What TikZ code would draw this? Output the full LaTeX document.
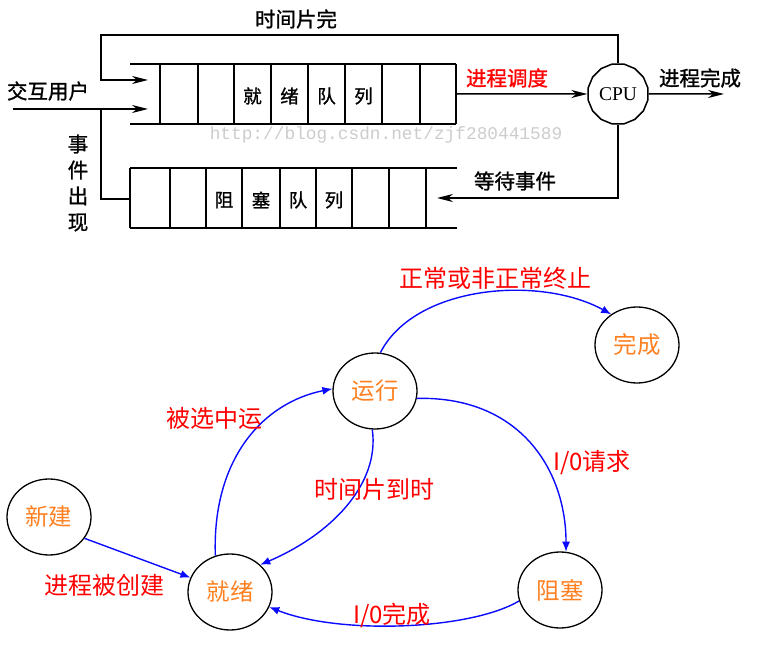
\documentclass[tikz,border=0pt]{standalone}
\usepackage{fontspec}
\setmainfont{Liberation Serif}
\newfontfamily\cjk{Noto Sans CJK SC}
\newfontfamily\cjkb[FakeBold=1.2]{Noto Sans CJK SC}
\newfontfamily\wmfont{Liberation Mono}
\usetikzlibrary{arrows.meta,shapes.geometric}
\definecolor{orng}{RGB}{255,128,32}
\definecolor{rd}{RGB}{255,0,0}
\definecolor{bl}{RGB}{10,10,255}
\begin{document}
\begin{tikzpicture}[x=1pt,y=-1pt,
  qline/.style={line width=1.5pt,black},
  blk/.style={line width=1.5pt,black,-{Stealth[length=16pt,width=8pt,inset=5pt]}},
  toplbl/.style={font=\cjkb\fontsize{20.5}{22}\selectfont,inner sep=0pt},
  cell/.style={font=\cjkb\fontsize{18.5}{20}\selectfont,inner sep=0pt},
  state/.style={ellipse,draw,line width=1.3pt,minimum width=84pt,minimum height=76pt,inner sep=0pt,text=orng,font=\cjk\fontsize{23.5}{25}\selectfont},
  blu/.style={line width=1.4pt,bl,-{Latex[length=10pt,width=8pt]}},
  rlbl/.style={text=rd,font=\cjk\fontsize{24}{26}\selectfont,inner sep=0pt}]
\useasboundingbox (0,0) rectangle (764,647);
% ---------- ready queue ----------
\draw[qline] (130,64) -- (456,64) (130,124) -- (456,124);
\foreach \x in {160,198,234,271,308,345,382,420,456}{\draw[qline] (\x,64) -- (\x,124);}
\node[cell] (r1) at (252.5,96) {就};
\node[cell] (r2) at (289.5,96) {绪};
\node[cell] (r3) at (326.5,96) {队};
\node[cell] (r4) at (363.5,96) {列};
% ---------- blocked queue ----------
\draw[qline] (130,168) -- (457,168) (130,228) -- (457,228);
\foreach \x in {130,170,206,242,280,316,352,389,426}{\draw[qline] (\x,168) -- (\x,228);}
\node[cell] (b1) at (224,200) {阻};
\node[cell] (b2) at (261,200) {塞};
\node[cell] (b3) at (298,200) {队};
\node[cell] (b4) at (334,200) {列};
% ---------- watermark ----------
\node[text=black!20,font=\wmfont\fontsize{17.8}{19}\selectfont,inner sep=0pt] (wm) at (386,135) {http://blog.csdn.net/zjf280441589};
% ---------- CPU ----------
\node[regular polygon,regular polygon sides=16,draw,line width=1.5pt,minimum size=61pt,inner sep=0pt,font=\fontsize{19.5}{21}\selectfont] (cpu) at (618,94) {CPU};
\coordinate (tl) at (101,35);
\coordinate (rin1) at (148,80);
\coordinate (uin) at (13,109);
\coordinate (rin2) at (148,109);
\coordinate (ev) at (101,109);
\coordinate (bqin) at (130,199);
\coordinate (rqout) at (456,94);
\coordinate (done) at (724,94);
\coordinate (bqout) at (437,198);
\draw[blk] (cpu.north) |- (tl) |- (rin1);
\draw[blk] (uin) -- (rin2);
\draw[qline] (ev) |- (bqin);
\draw[blk] (rqout) -- (cpu.west);
\draw[blk] (cpu.east) -- (done);
\draw[blk] (cpu.south) |- (bqout);
\node[toplbl] (l1) at (296,19) {时间片完};
\node[toplbl] (l2) at (48,91) {交互用户};
\node[toplbl,align=center] (l3) at (78,183) {事\\[4pt]件\\[4pt]出\\[4pt]现};
\node[toplbl,text=rd] (l4) at (507,78) {进程调度};
\node[toplbl] (l5) at (700,78) {进程完成};
\node[toplbl] (l6) at (515,181) {等待事件};
% ---------- state diagram ----------
\node[state] (new) at (49,517) {新建};
\node[state] (ready) at (230,592) {就绪};
\node[state] (run) at (375,391) {运行};
\node[state] (fin) at (637,345) {完成};
\node[state] (blkd) at (560,590) {阻塞};
\draw[blu] (new.-31) -- (ready.160);
\draw[blu] (ready.112) .. controls (212,460) and (262,403) .. (run.177);
\draw[blu] (run.-94) .. controls (380,485) and (330,535) .. (ready.42);
\draw[blu] (run.82) .. controls (415,285) and (540,275) .. (fin.130);
\draw[blu] (run.-10) .. controls (520,396) and (566,470) .. (blkd.81);
\draw[blu] (blkd.195) .. controls (470,630) and (340,635) .. (ready.-21);
\node[rlbl] (t1) at (495,278) {正常或非正常终止};
\node[rlbl] (t2) at (214,418) {被选中运};
\node[rlbl] (t3) at (374,489) {时间片到时};
\node[rlbl] (t4) at (592,463) {I/0请求};
\node[rlbl] (t5) at (105,585) {进程被创建};
\node[rlbl] (t6) at (392,615) {I/0完成};
\end{tikzpicture}
\end{document}
